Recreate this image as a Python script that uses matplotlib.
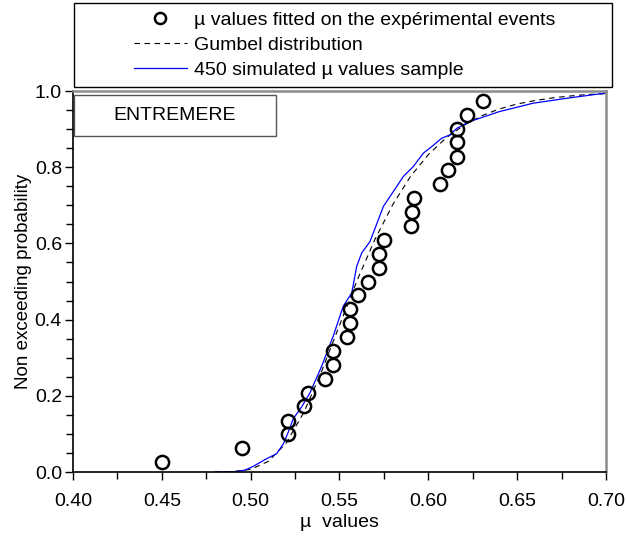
import matplotlib.pyplot as plt
from matplotlib.lines import Line2D
from matplotlib.patches import Rectangle
from matplotlib.ticker import MultipleLocator, FormatStrFormatter

plt.rcParams['font.family'] = ['Liberation Sans', 'DejaVu Sans']

# fitted mu values of the experimental events and their plotting positions
mu_exp = [0.450, 0.495, 0.521, 0.521, 0.530, 0.532, 0.542, 0.5465, 0.5465,
          0.554, 0.556, 0.556, 0.5605, 0.566, 0.572, 0.572, 0.575, 0.5905,
          0.591, 0.592, 0.6065, 0.611, 0.616, 0.616, 0.616, 0.6215, 0.631]
p_exp = [0.026, 0.062, 0.099, 0.135, 0.172, 0.208, 0.245, 0.281, 0.318,
         0.354, 0.391, 0.427, 0.464, 0.500, 0.536, 0.573, 0.609, 0.646,
         0.682, 0.719, 0.755, 0.792, 0.828, 0.865, 0.901, 0.938, 0.974]

# Gumbel law
x_gumbel = [0.48, 0.49, 0.50, 0.51, 0.52, 0.53, 0.54, 0.55, 0.56, 0.57, 0.58,
            0.59, 0.60, 0.61, 0.62, 0.63, 0.64, 0.65, 0.66, 0.67, 0.68, 0.69, 0.70]
p_gumbel = [0.0001, 0.001, 0.007, 0.028, 0.076, 0.157, 0.265, 0.385, 0.504,
            0.611, 0.702, 0.776, 0.833, 0.877, 0.910, 0.935, 0.953, 0.966,
            0.975, 0.982, 0.987, 0.991, 0.993]

# empirical distribution of the 450 simulated values
x_sim = [0.480, 0.4896, 0.4968, 0.5015, 0.509, 0.5146, 0.5184, 0.5212, 0.524,
         0.5287, 0.5334, 0.540, 0.5465, 0.5521, 0.5569, 0.5597, 0.5625, 0.5672,
         0.5747, 0.586, 0.5916, 0.5972, 0.6019, 0.6075, 0.6122, 0.616, 0.6234,
         0.640, 0.659, 0.6779, 0.7004]
p_sim = [0.0, 0.0, 0.005, 0.015, 0.035, 0.048, 0.074, 0.105, 0.140,
         0.171, 0.208, 0.278, 0.357, 0.435, 0.470, 0.540, 0.575, 0.605,
         0.697, 0.776, 0.802, 0.837, 0.854, 0.876, 0.885, 0.902, 0.920,
         0.946, 0.968, 0.981, 0.995]

fig = plt.figure(figsize=(6.26, 5.37), dpi=100)
ax = fig.add_axes([0.1166, 0.121, 0.8514, 0.7095])

ax.plot(x_gumbel, p_gumbel, color='black', lw=0.8, dashes=(5, 4))
ax.plot(x_sim, p_sim, color='#0000ff', lw=0.9)
ax.plot(mu_exp, p_exp, 'o', mfc='none', mec='black', ms=9.5, mew=1.8)

ax.set_xlim(0.40, 0.70)
ax.set_ylim(0.0, 1.0)
ax.xaxis.set_major_locator(MultipleLocator(0.05))
ax.xaxis.set_minor_locator(MultipleLocator(0.025))
ax.yaxis.set_major_locator(MultipleLocator(0.2))
ax.yaxis.set_minor_locator(MultipleLocator(0.05))
ax.xaxis.set_major_formatter(FormatStrFormatter('%.2f'))
ax.yaxis.set_major_formatter(FormatStrFormatter('%.1f'))
ax.tick_params(which='both', direction='out', labelsize=14, width=1, color='black')
ax.tick_params(which='major', length=6)
ax.tick_params(which='minor', length=5)
ax.tick_params(axis='x', pad=9)
ax.tick_params(axis='y', pad=2)

for side in ('left', 'bottom'):
    ax.spines[side].set_color('black')
    ax.spines[side].set_linewidth(1.2)
for side in ('top', 'right'):
    ax.spines[side].set_color('#8c8c8c')
    ax.spines[side].set_linewidth(1.8)

ax.set_xlabel('µ  values', fontsize=14, labelpad=3)
ax.set_ylabel('Non exceeding probability', fontsize=13.5, labelpad=2)

# site name box
ax.text(0.19, 0.936, 'ENTREMERE', transform=ax.transAxes, fontsize=14,
        ha='center', va='center')
ax.add_patch(Rectangle((0.002, 0.882), 0.379, 0.1075, transform=ax.transAxes,
                       fill=False, edgecolor='#555555', lw=1.0))

# legend above the plot
fig.patches.append(Rectangle((74 / 626, 1 - 87 / 537), 538 / 626, 84 / 537,
                             transform=fig.transFigure, fill=False,
                             edgecolor='black', lw=1.0))
handles = [
    Line2D([0], [0], ls='none', marker='o', mfc='none', mec='black', ms=8, mew=1.8,
           label='µ values fitted on the expérimental events'),
    Line2D([0], [0], color='black', lw=0.8, dashes=(5, 4), label='Gumbel distribution'),
    Line2D([0], [0], color='#0000ff', lw=0.9, label='450 simulated µ values sample'),
]
fig.legend(handles=handles, loc='center', bbox_to_anchor=(345 / 626, 1 - 45 / 537),
           frameon=False, fontsize=14, handlelength=2.7, handletextpad=0.4,
           labelspacing=0.38, borderpad=0)

fig.savefig('out.png', dpi=100)
